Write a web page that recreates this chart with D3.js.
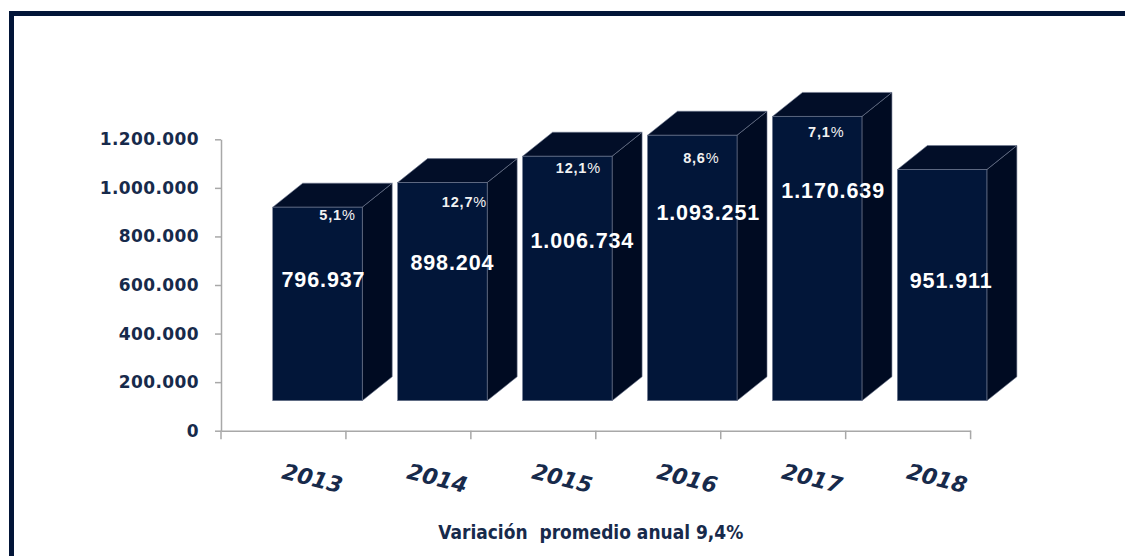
<!DOCTYPE html>
<html>
<head>
<meta charset="utf-8">
<script src="https://cdn.jsdelivr.net/npm/d3@7"></script>
<style>
  html, body { margin: 0; padding: 0; background: #ffffff; }
  svg { display: block; }
</style>
</head>
<body>
<svg id="chart" width="1125" height="556"></svg>
<script>
// Annual totals 2013–2018
const years = ["2013", "2014", "2015", "2016", "2017", "2018"];
const totals = [796937, 898204, 1006734, 1093251, 1170639, 951911];
// Year-on-year growth shown on each bar (none for 2018)
const growth = [5.1, 12.7, 12.1, 8.6, 7.1, null];
const yTicks = [0, 200000, 400000, 600000, 800000, 1000000, 1200000];
const footnote = "Variación  promedio anual 9,4%";

// Hand-tuned label placement relative to each bar's front face (px)
const valueLabelShift = [[6, 72], [10, 80], [15, 84], [16, 77], [16, 74], [9, 111]];
const growthLabelShift = [[20, 8], [22, 19], [11, 12], [9, 23], [9, 15], null];

const svg = d3.select("#chart");
const navy = "#172a4b";

// Frame: thick rule along the top and left edges
svg.append("path")
  .attr("d", "M11.5,556 V13.5 H1125")
  .attr("fill", "none")
  .attr("stroke", "#021538")
  .attr("stroke-width", 5);

const x = d3.scaleBand().domain(years).range([221, 970.6]).padding(0);
const y = d3.scaleLinear().domain([0, 1200000]).range([430.7, 139.3]);

// 3D projection of the columns
const depthX = 30, depthY = 24;      // offset of the back face
const shiftX = 34, shiftY = -30;     // front face relative to the axis plane
const barW = 89.5;

// Axes
const fmt = v => d3.format(",")(v).replace(/,/g, ".");
const yAxis = svg.append("g")
  .attr("transform", "translate(221,0)")
  .call(d3.axisLeft(y).tickValues(yTicks).tickSize(6).tickSizeOuter(0).tickFormat(fmt));
yAxis.select(".domain").attr("stroke", "#a8a8a8").attr("stroke-width", 1.5);
yAxis.selectAll(".tick line").attr("stroke", "#a8a8a8").attr("stroke-width", 1.5);
yAxis.selectAll(".tick text")
  .attr("x", -22)
  .attr("fill", navy)
  .style("font-family", "'DejaVu Sans', sans-serif")
  .style("font-weight", "bold")
  .style("font-size", "17px")
  .style("letter-spacing", "0.4px");

const xAxis = svg.append("g")
  .attr("transform", "translate(0,430.7)")
  .call(d3.axisBottom(x).tickSize(0).tickFormat(""));
xAxis.select(".domain").attr("stroke", "#a8a8a8").attr("stroke-width", 1.5);
// Ticks at the band boundaries
const bounds = years.map(d => x(d)).concat([x(years[years.length - 1]) + x.bandwidth()]);
xAxis.selectAll("line.bound")
  .data(bounds)
  .join("line")
  .attr("class", "bound")
  .attr("x1", d => d).attr("x2", d => d)
  .attr("y1", 0).attr("y2", 8.5)
  .attr("stroke", "#a8a8a8").attr("stroke-width", 1.5);

// Columns
const bars = svg.append("g").selectAll("g.bar")
  .data(years.map((yr, i) => ({ yr, v: totals[i], g: growth[i], i })))
  .join("g").attr("class", "bar");

const fx0 = d => x(d.yr) + x.bandwidth() / 2 + shiftX - barW / 2;
const fTop = d => y(d.v) + shiftY;
const fBot = () => y(0) + shiftY;

const edge = "#6f7890";
bars.append("polygon") // side face
  .attr("points", d => {
    const r = fx0(d) + barW;
    return [[r, fTop(d)], [r + depthX, fTop(d) - depthY], [r + depthX, fBot() - depthY], [r, fBot()]].join(" ");
  })
  .attr("fill", "#000b22")
  .attr("stroke", edge).attr("stroke-width", 0.6);
bars.append("polygon") // top face
  .attr("points", d => {
    const l = fx0(d), r = l + barW, t = fTop(d);
    return [[l, t], [r, t], [r + depthX, t - depthY], [l + depthX, t - depthY]].join(" ");
  })
  .attr("fill", "#020e28")
  .attr("stroke", edge).attr("stroke-width", 0.6);
bars.append("rect") // front face
  .attr("x", fx0)
  .attr("y", fTop)
  .attr("width", barW)
  .attr("height", d => fBot() - fTop(d))
  .attr("fill", "#021639")
  .attr("stroke", edge).attr("stroke-width", 0.6);

// Value labels
bars.append("text")
  .attr("x", d => fx0(d) + barW / 2 + valueLabelShift[d.i][0])
  .attr("y", d => fTop(d) + valueLabelShift[d.i][1])
  .attr("dy", "0.36em")
  .attr("text-anchor", "middle")
  .attr("fill", "#ffffff")
  .style("font-family", "'Liberation Sans', Arial, sans-serif")
  .style("font-weight", "bold")
  .style("font-size", "21.5px")
  .style("letter-spacing", "0.9px")
  .text(d => fmt(d.v));

// Growth labels
const gl = bars.filter(d => d.g !== null).append("text")
  .attr("x", d => fx0(d) + barW / 2 + growthLabelShift[d.i][0])
  .attr("y", d => fTop(d) + growthLabelShift[d.i][1])
  .attr("dy", "0.36em")
  .attr("text-anchor", "middle")
  .attr("fill", "#f2f2f2")
  .style("font-family", "'Liberation Sans', Arial, sans-serif")
  .style("font-size", "14.5px")
  .style("letter-spacing", "0.8px");
gl.append("tspan").style("font-weight", "bold").text(d => d3.format(".1f")(d.g).replace(".", ","));
gl.append("tspan").style("font-weight", "normal").text("%");

// Year labels, tilted
svg.append("g").selectAll("text.year")
  .data(years)
  .join("text")
  .attr("class", "year")
  .attr("transform", d => `translate(${x(d) + x.bandwidth() / 2 + 29},478) rotate(14)`)
  .attr("dy", "0.36em")
  .attr("text-anchor", "middle")
  .attr("fill", navy)
  .style("font-family", "'DejaVu Sans', sans-serif")
  .style("font-weight", "bold")
  .style("font-style", "italic")
  .style("font-size", "22px")
  .style("letter-spacing", "0px")
  .text(d => d);

// Footnote
svg.append("text")
  .attr("x", 438.3)
  .attr("y", 539.3)
  .attr("textLength", 305)
  .attr("lengthAdjust", "spacingAndGlyphs")
  .attr("fill", navy)
  .style("font-family", "'Liberation Sans Narrow', 'Arial Narrow', 'DejaVu Sans Condensed', 'Liberation Sans', Arial, sans-serif")
  .style("font-weight", "bold")
  .style("font-size", "19px")
  .style("white-space", "pre")
  .text(footnote);
</script>
</body>
</html>
